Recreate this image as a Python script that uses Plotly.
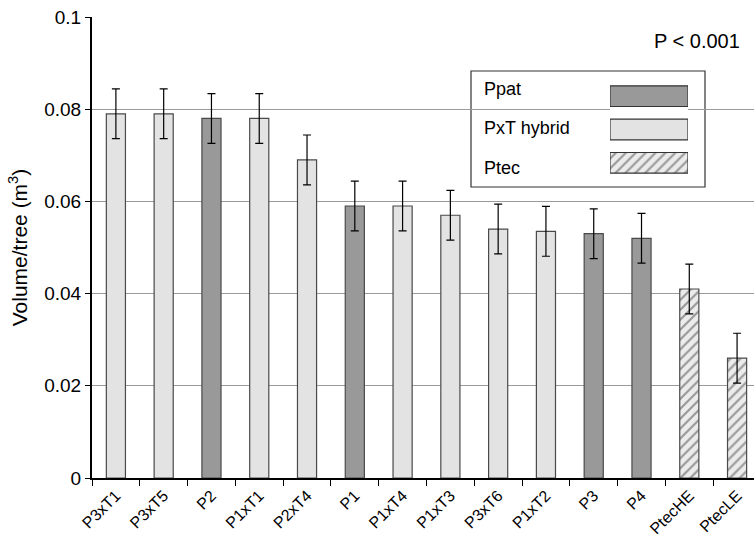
import plotly.graph_objects as go

categories = ["P3xT1", "P3xT5", "P2", "P1xT1", "P2xT4", "P1", "P1xT4", "P1xT3",
              "P3xT6", "P1xT2", "P3", "P4", "PtecHE", "PtecLE"]
values = [0.079, 0.079, 0.078, 0.078, 0.069, 0.059, 0.059, 0.057,
          0.054, 0.0535, 0.053, 0.052, 0.041, 0.026]
errors = [0.0054, 0.0054, 0.0054, 0.0054, 0.0054, 0.0054, 0.0054, 0.0054,
          0.0054, 0.0054, 0.0054, 0.0054, 0.0054, 0.0054]
groups = ["PxT hybrid", "PxT hybrid", "Ppat", "PxT hybrid", "PxT hybrid", "Ppat",
          "PxT hybrid", "PxT hybrid", "PxT hybrid", "PxT hybrid", "Ppat", "Ppat",
          "Ptec", "Ptec"]
legend_groups = ["Ppat", "PxT hybrid", "Ptec"]
y_tickvals = [0, 0.02, 0.04, 0.06, 0.08, 0.1]
y_ticktext = ["0", "0.02", "0.04", "0.06", "0.08", "0.1"]

fill = {"Ppat": "#999999", "PxT hybrid": "#e3e3e3", "Ptec": "#ececec"}
shape = {"Ppat": "", "PxT hybrid": "", "Ptec": "/"}

FONT = "Liberation Sans, Arial, sans-serif"

fig = go.Figure()
fig.add_trace(go.Bar(
    x=categories, y=values,
    width=0.4,
    marker=dict(
        color=[fill[g] for g in groups],
        line=dict(color="#4a4a4a", width=1.2),
        pattern=dict(shape=[shape[g] for g in groups], fgcolor="#a8a8a8",
                     bgcolor="#eeeeee", size=7, solidity=0.3),
    ),
    error_y=dict(type="data", array=errors, color="black", thickness=1.2, width=4),
    showlegend=False,
))

# legend swatches (hand-made legend with swatches on the right)
fig.add_trace(go.Bar(
    x=[1, 1, 1], y=legend_groups[::-1], orientation="h",
    width=0.62,
    xaxis="x2", yaxis="y2",
    marker=dict(
        color=[fill[g] for g in legend_groups[::-1]],
        line=dict(color="#333333", width=1.2),
        pattern=dict(shape=[shape[g] for g in legend_groups[::-1]], fgcolor="#a8a8a8",
                     bgcolor="#eeeeee", size=7, solidity=0.3),
    ),
    showlegend=False, hoverinfo="skip",
))

# plot area: x 92..754 (cut at window), y 17..478
PW, PH = 662, 461
def px(x):
    return (x - 92) / PW
def py(y):
    return (478 - y) / PH

fig.add_shape(type="rect", xref="paper", yref="paper",
              x0=px(471), x1=px(705), y0=py(187), y1=py(71),
              fillcolor="white", line=dict(color="#333333", width=1.2),
              layer="between")

label_y = [89, 128, 168]
for g, yy in zip(legend_groups, label_y):
    fig.add_annotation(x=px(482), y=py(yy), xref="paper", yref="paper",
                       text=g, showarrow=False, xanchor="left", yanchor="middle",
                       font=dict(family=FONT, size=18, color="black"))

fig.add_annotation(x=px(742), y=py(41), xref="paper", yref="paper",
                   text="P < 0.001", showarrow=False, xanchor="right", yanchor="middle",
                   font=dict(family=FONT, size=20, color="black"))

fig.update_layout(
    width=754, height=542,
    margin=dict(l=92, r=0, t=17, b=64),
    paper_bgcolor="white", plot_bgcolor="white",
    font=dict(family=FONT, color="black"),
    xaxis=dict(
        range=[-0.5, 13.5 - 7 / 48], showgrid=False, showline=True,
        linecolor="black", linewidth=2, ticks="outside", tickson="boundaries",
        ticklen=6, tickcolor="black", tickwidth=1.2, tickangle=-45,
        tickfont=dict(family=FONT, size=16, color="black"), fixedrange=True,
    ),
    yaxis=dict(
        range=[0, 0.1], tickvals=y_tickvals, ticktext=y_ticktext,
        showgrid=True, gridcolor="#9a9a9a", gridwidth=1, zeroline=False,
        showline=True, linecolor="black", linewidth=2, ticks="outside",
        ticklen=5, tickcolor="black", tickwidth=1.2,
        tickfont=dict(family=FONT, size=19, color="black"),
        title=dict(text="Volume/tree (m<sup>3</sup>)", standoff=11,
                   font=dict(family=FONT, size=21, color="black")),
        fixedrange=True,
    ),
    xaxis2=dict(domain=[px(610), px(688)], range=[0, 1], visible=False,
                anchor="y2", fixedrange=True),
    yaxis2=dict(domain=[py(179.5), py(79.5)], range=[-0.5, 2.5], visible=False,
                anchor="x2", fixedrange=True, type="category"),
    bargap=0.6,
)

fig.write_html("out.html", config={"displayModeBar": False},
               post_script="document.body.style.margin='0px';document.body.style.overflow='hidden';")
